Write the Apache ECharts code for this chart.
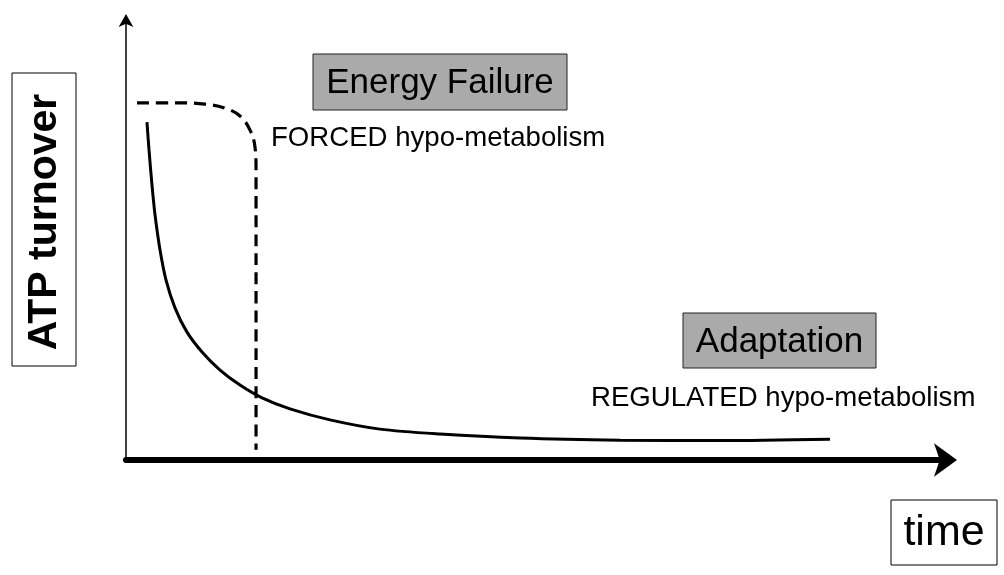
<!DOCTYPE html>
<html>
<head>
<meta charset="utf-8">
<script src="https://cdn.jsdelivr.net/npm/echarts@6/dist/echarts.min.js"></script>
<style>
  html, body { margin: 0; padding: 0; background: #fff; }
  #main { width: 1004px; height: 575px; }
</style>
</head>
<body>
<div id="main"></div>
<script>
// regulated hypo-metabolism (solid line), time vs ATP turnover, arbitrary units 0-100
var regTime = [2.55, 2.80, 3.16, 3.53, 4.14, 4.87, 5.96, 7.42, 9.25, 11.44, 13.87, 16.55, 19.95, 24.82, 30.90, 38.20, 47.93, 60.10, 72.26, 85.64];
var regAtp  = [76.6, 70.3, 62.4, 55.6, 47.6, 40.8, 34.5, 29.0, 24.5, 20.4, 17.0, 14.1, 11.6, 9.1, 7.0, 5.9, 5.0, 4.5, 4.4, 4.7];

// forced hypo-metabolism (dashed line)
var forTime = [1.34, 5.96, 9.61, 12.04, 13.87, 15.09, 15.69, 15.82, 15.82, 15.82, 15.82, 15.82];
var forAtp  = [81.0, 81.0, 80.7, 79.8, 78.0, 74.8, 71.0, 65.8, 59.0, 36.3, 13.6, 2.3];

var axisNames = ['ATP turnover', 'time'];
var boxLabels = ['Energy Failure', 'Adaptation'];
var subLabels = ['FORCED hypo-metabolism', 'REGULATED hypo-metabolism'];

function pairs(xs, ys) {
    return xs.map(function (x, i) { return [x, ys[i]]; });
}

var chart = echarts.init(document.getElementById('main'));
var option = {
    backgroundColor: '#fff',
    animation: false,
    grid: { left: 126, top: 19, right: 56, bottom: 115 },
    xAxis: {
        type: 'value', min: 0, max: 100,
        axisLine: {
            lineStyle: { color: '#000', width: 6 },
            symbol: ['none', 'arrow'],
            symbolSize: [25, 23],
            symbolOffset: [0, 9]
        },
        axisTick: { show: false },
        axisLabel: { show: false },
        splitLine: { show: false }
    },
    yAxis: {
        type: 'value', min: 0, max: 100,
        axisLine: {
            show: true,
            lineStyle: { color: '#000', width: 1.5 },
            symbol: ['none', 'arrow'],
            symbolSize: [11, 13],
            symbolOffset: [0, 5]
        },
        axisTick: { show: false },
        axisLabel: { show: false },
        splitLine: { show: false }
    },
    series: [
        {
            name: subLabels[1],
            type: 'line',
            data: pairs(regTime, regAtp),
            smooth: 0.3,
            showSymbol: false,
            lineStyle: { color: '#000', width: 3 }
        },
        {
            name: subLabels[0],
            type: 'line',
            data: pairs(forTime, forAtp),
            smooth: 0.4,
            showSymbol: false,
            lineStyle: { color: '#000', width: 3.2, type: [12, 7] }
        }
    ],
    graphic: [
        // y axis name box
        { type: 'rect', shape: { x: 12, y: 73, width: 64, height: 293 },
          style: { fill: '#fff', stroke: '#000', lineWidth: 1 } },
        { type: 'text', x: 45, y: 222, rotation: Math.PI / 2,
          style: { text: axisNames[0], font: 'bold 41px "Liberation Sans", Arial, sans-serif',
                   fill: '#000', align: 'center', verticalAlign: 'middle' } },
        // x axis name box
        { type: 'rect', shape: { x: 891, y: 500, width: 106, height: 65 },
          style: { fill: '#fff', stroke: '#000', lineWidth: 1 } },
        { type: 'text', x: 944, y: 533,
          style: { text: axisNames[1], font: '43px "Liberation Sans", Arial, sans-serif',
                   fill: '#000', align: 'center', verticalAlign: 'middle' } },
        // Energy Failure
        { type: 'rect', shape: { x: 313, y: 54, width: 254, height: 56 },
          style: { fill: '#aaaaaa', stroke: '#222', lineWidth: 1 } },
        { type: 'text', x: 440, y: 83,
          style: { text: boxLabels[0], font: '35px "Liberation Sans", Arial, sans-serif',
                   fill: '#000', align: 'center', verticalAlign: 'middle' } },
        { type: 'text', x: 271, y: 138,
          style: { text: subLabels[0], font: '27.6px "Liberation Sans", Arial, sans-serif',
                   fill: '#000', align: 'left', verticalAlign: 'middle' } },
        // Adaptation
        { type: 'rect', shape: { x: 683, y: 313, width: 193, height: 55 },
          style: { fill: '#aaaaaa', stroke: '#222', lineWidth: 1 } },
        { type: 'text', x: 779.5, y: 342,
          style: { text: boxLabels[1], font: '35px "Liberation Sans", Arial, sans-serif',
                   fill: '#000', align: 'center', verticalAlign: 'middle' } },
        { type: 'text', x: 591, y: 398,
          style: { text: subLabels[1], font: '27.6px "Liberation Sans", Arial, sans-serif',
                   fill: '#000', align: 'left', verticalAlign: 'middle' } }
    ]
};
chart.setOption(option);
</script>
</body>
</html>
